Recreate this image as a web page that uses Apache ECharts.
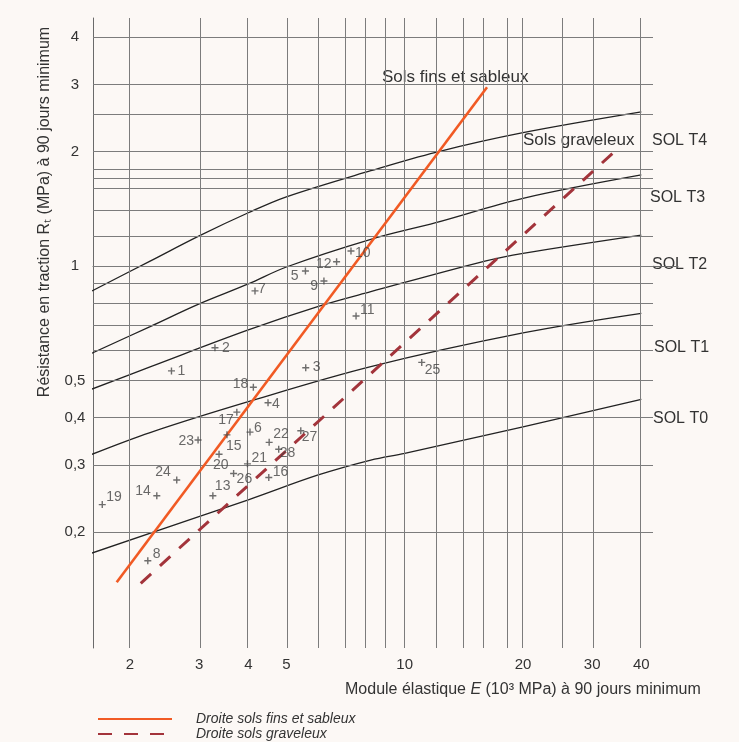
<!DOCTYPE html>
<html>
<head>
<meta charset="utf-8">
<script src="https://cdn.jsdelivr.net/npm/echarts@6/dist/echarts.min.js"></script>
<style>
html,body{margin:0;padding:0;background:#fcf8f5;}
#chart{width:739px;height:742px;}
</style>
</head>
<body>
<div id="chart"></div>
<script>
// ---- Data ----
const xTickLabels = [2, 3, 4, 5, 10, 20, 30, 40];
const yTickLabels = [0.2, 0.3, 0.4, 0.5, 1, 2, 3, 4];
const xGridValues = [2, 3, 4, 5, 6, 7, 8, 9, 10, 12, 14, 16, 18, 20, 25, 30, 40];
const yGridValues = [0.2, 0.3, 0.4, 0.5, 0.6, 0.7, 0.8, 0.9, 1, 1.2, 1.4, 1.6, 1.7, 1.8, 2, 2.5, 3, 4];

const t4E = [1.6, 2.25, 3, 4, 5, 8.2, 12, 20, 40];
const t4R = [0.86, 1.03, 1.2, 1.38, 1.52, 1.78, 1.99, 2.24, 2.54];
const t3E = [1.6, 2.25, 3, 4, 5, 8.2, 12, 20, 40];
const t3R = [0.59, 0.693, 0.795, 0.897, 0.994, 1.175, 1.3, 1.506, 1.735];
const t2E = [1.6, 2.25, 4, 6.2, 8.2, 16, 20, 40];
const t2R = [0.475, 0.543, 0.679, 0.79, 0.856, 1.03, 1.08, 1.206];
const t1E = [1.6, 2.25, 4, 8.2, 20, 40];
const t1R = [0.32, 0.365, 0.44, 0.544, 0.667, 0.751];
const t0E = [1.6, 4, 6, 8.2, 10, 20, 40];
const t0R = [0.176, 0.243, 0.282, 0.309, 0.322, 0.378, 0.446];

const fineE = [1.85, 16.2];
const fineR = [0.1475, 2.95];
const gravE = [2.13, 34.4];
const gravR = [0.1466, 2.01];

const pointIds = [1, 2, 3, 4, 5, 6, 7, 8, 9, 10, 11, 12, 13, 14, 15, 16, 17, 18, 19, 20, 21, 22, 23, 24, 25, 26, 27, 28];
const pointE = [2.55, 3.29, 5.60, 4.49, 5.59, 4.04, 4.16, 2.22, 6.23, 7.30, 7.52, 6.71, 3.25, 2.34, 3.53, 4.51, 3.74, 4.12, 1.70, 3.37, 3.98, 4.52, 2.98, 2.63, 11.05, 3.67, 5.44, 4.78];
const pointR = [0.53, 0.61, 0.54, 0.437, 0.97, 0.366, 0.86, 0.168, 0.913, 1.095, 0.739, 1.026, 0.249, 0.249, 0.36, 0.278, 0.413, 0.48, 0.236, 0.32, 0.302, 0.344, 0.349, 0.274, 0.558, 0.285, 0.369, 0.33];

const soilNames = ['SOL T4', 'SOL T3', 'SOL T2', 'SOL T1', 'SOL T0'];

// ---- Styles (label placement for point numbers: dx, dy, align) ----
const labelPlace = {
  1: [6, 0, 'left'], 2: [7, 0, 'left'], 3: [7, -1, 'left'], 4: [4, 1, 'left'],
  5: [-7, 5, 'right'], 6: [4, -4, 'left'], 7: [3, -2, 'left'], 8: [5, -7, 'left'],
  9: [-6, 5, 'right'], 10: [4, 2, 'left'], 11: [4, -6, 'left'], 12: [-5, 2, 'right'],
  13: [2, -10, 'left'], 14: [-6, -5, 'right'], 15: [-1, 11, 'left'], 16: [4, -5, 'left'],
  17: [-3, 8, 'right'], 18: [-5, -3, 'right'], 19: [4, -7, 'left'], 20: [-6, 11, 'left'],
  21: [4, -6, 'left'], 22: [4, -8, 'left'], 23: [-4, 1, 'right'], 24: [-6, -8, 'right'],
  25: [3, 8, 'left'], 26: [3, 6, 'left'], 27: [1, 6, 'left'], 28: [1, 4, 'left']
};

const L = Math.log10;
const FONT = '"Liberation Sans", Arial, sans-serif';
const xMin = L(2) - 37 / 393;
const xMax = xMin + 585 / 393;
const yMin = -382 / 380.5;
const yMax = 248 / 380.5;
const hLineEnd = xMin + 560 / 393;

function pair(xs, ys) { return xs.map((x, i) => [L(x), L(ys[i])]); }
function fmt(v) {
  const n = Math.round(Math.pow(10, v) * 100) / 100;
  return String(n).replace('.', ',');
}

const gridLineData = [];
xGridValues.forEach(v => gridLineData.push({ xAxis: L(v) }));
yGridValues.forEach(v => gridLineData.push([{ coord: [xMin, L(v)] }, { coord: [hLineEnd, L(v)] }]));

const curveStyle = { color: '#222', width: 1.3 };
const curves = [[t4E, t4R], [t3E, t3R], [t2E, t2R], [t1E, t1R], [t0E, t0R]].map((c, i) => ({
  type: 'line', name: soilNames[i], data: pair(c[0], c[1]), smooth: 0.35,
  symbol: 'none', lineStyle: curveStyle, silent: true, z: 3
}));

const pointData = pointIds.map((id, i) => {
  const p = labelPlace[id];
  return {
    value: [L(pointE[i]), L(pointR[i])],
    label: { show: true, formatter: String(id), position: 'inside', offset: [p[0], p[1]], align: p[2], verticalAlign: 'middle' }
  };
});

const chart = echarts.init(document.getElementById('chart'));
chart.setOption({
  backgroundColor: '#fcf8f5',
  animation: false,
  grid: { left: 93, right: 61, top: 18, bottom: 94, containLabel: false, outerBoundsMode: 'none' },
  xAxis: {
    type: 'value', min: xMin, max: xMax,
    axisLine: { show: true, lineStyle: { color: '#6a6a6a', width: 1 } },
    axisTick: { show: false }, splitLine: { show: false },
    axisLabel: { customValues: xTickLabels.map(L), formatter: fmt, color: '#333', fontSize: 15, fontFamily: FONT, margin: 9 }
  },
  yAxis: {
    type: 'value', min: yMin, max: yMax,
    axisLine: { show: true, lineStyle: { color: '#6a6a6a', width: 1 } },
    axisTick: { show: false }, splitLine: { show: false },
    axisLabel: { customValues: yTickLabels.map(L), formatter: fmt, color: '#333', fontSize: 15, fontFamily: FONT, margin: 18, align: 'center' }
  },
  legend: {
    orient: 'vertical', left: 97, top: 712, padding: 0, itemWidth: 74, itemHeight: 14, itemGap: 1,
    data: ['Droite sols fins et sableux', 'Droite sols graveleux'],
    itemStyle: { opacity: 0 },
    textStyle: { fontStyle: 'italic', fontSize: 14, color: '#333', fontFamily: FONT, padding: [0, 0, 0, 19] }
  },
  graphic: [
    { type: 'text', x: 45, y: 212, rotation: Math.PI / 2,
      style: { text: 'Résistance en traction Rₜ (MPa) à 90 jours minimum', fill: '#333', font: '16px ' + FONT, align: 'center', verticalAlign: 'middle' } },
    { type: 'text', x: 345, y: 690,
      style: { text: 'Module élastique {i|E} (10³ MPa) à 90 jours minimum', fill: '#333', font: '16px ' + FONT, align: 'left', verticalAlign: 'middle',
        rich: { i: { fontStyle: 'italic', fontSize: 16, fontFamily: FONT, fill: '#333' } } } },
    { type: 'text', x: 382, y: 77, style: { text: 'Sols fins et sableux', fill: '#333', font: '17px ' + FONT, verticalAlign: 'middle' } },
    { type: 'text', x: 523, y: 140, style: { text: 'Sols graveleux', fill: '#333', font: '17px ' + FONT, verticalAlign: 'middle' } },
    { type: 'text', x: 652, y: 141, style: { text: soilNames[0], fill: '#333', font: '16px ' + FONT, verticalAlign: 'middle' } },
    { type: 'text', x: 650, y: 198, style: { text: soilNames[1], fill: '#333', font: '16px ' + FONT, verticalAlign: 'middle' } },
    { type: 'text', x: 652, y: 265, style: { text: soilNames[2], fill: '#333', font: '16px ' + FONT, verticalAlign: 'middle' } },
    { type: 'text', x: 654, y: 348, style: { text: soilNames[3], fill: '#333', font: '16px ' + FONT, verticalAlign: 'middle' } },
    { type: 'text', x: 653, y: 419, style: { text: soilNames[4], fill: '#333', font: '16px ' + FONT, verticalAlign: 'middle' } }
  ],
  series: [
    { type: 'line', name: 'grid', data: [], silent: true, z: 1,
      markLine: { silent: true, symbol: ['none', 'none'], animation: false, label: { show: false },
        lineStyle: { color: '#7c7c7c', width: 1, type: 'solid' }, emphasis: { disabled: true }, data: gridLineData } },
    ...curves,
    { type: 'line', name: 'Droite sols fins et sableux', data: pair(fineE, fineR), symbol: 'none',
      lineStyle: { color: '#f15a24', width: 2.6 }, itemStyle: { color: '#f15a24' }, z: 5 },
    { type: 'line', name: 'Droite sols graveleux', data: pair(gravE, gravR), symbol: 'none',
      lineStyle: { color: '#a3343b', width: 3, type: [14, 12] }, itemStyle: { color: '#a3343b' }, z: 5 },
    { type: 'scatter', name: 'points', data: pointData, symbol: 'path://M2,0H3V2H5V3H3V5H2V3H0V2H2Z', symbolSize: 7,
      itemStyle: { color: '#4a4a4a' }, z: 6,
      label: { color: '#444', fontSize: 14, fontFamily: FONT } }
  ]
});
</script>
</body>
</html>
